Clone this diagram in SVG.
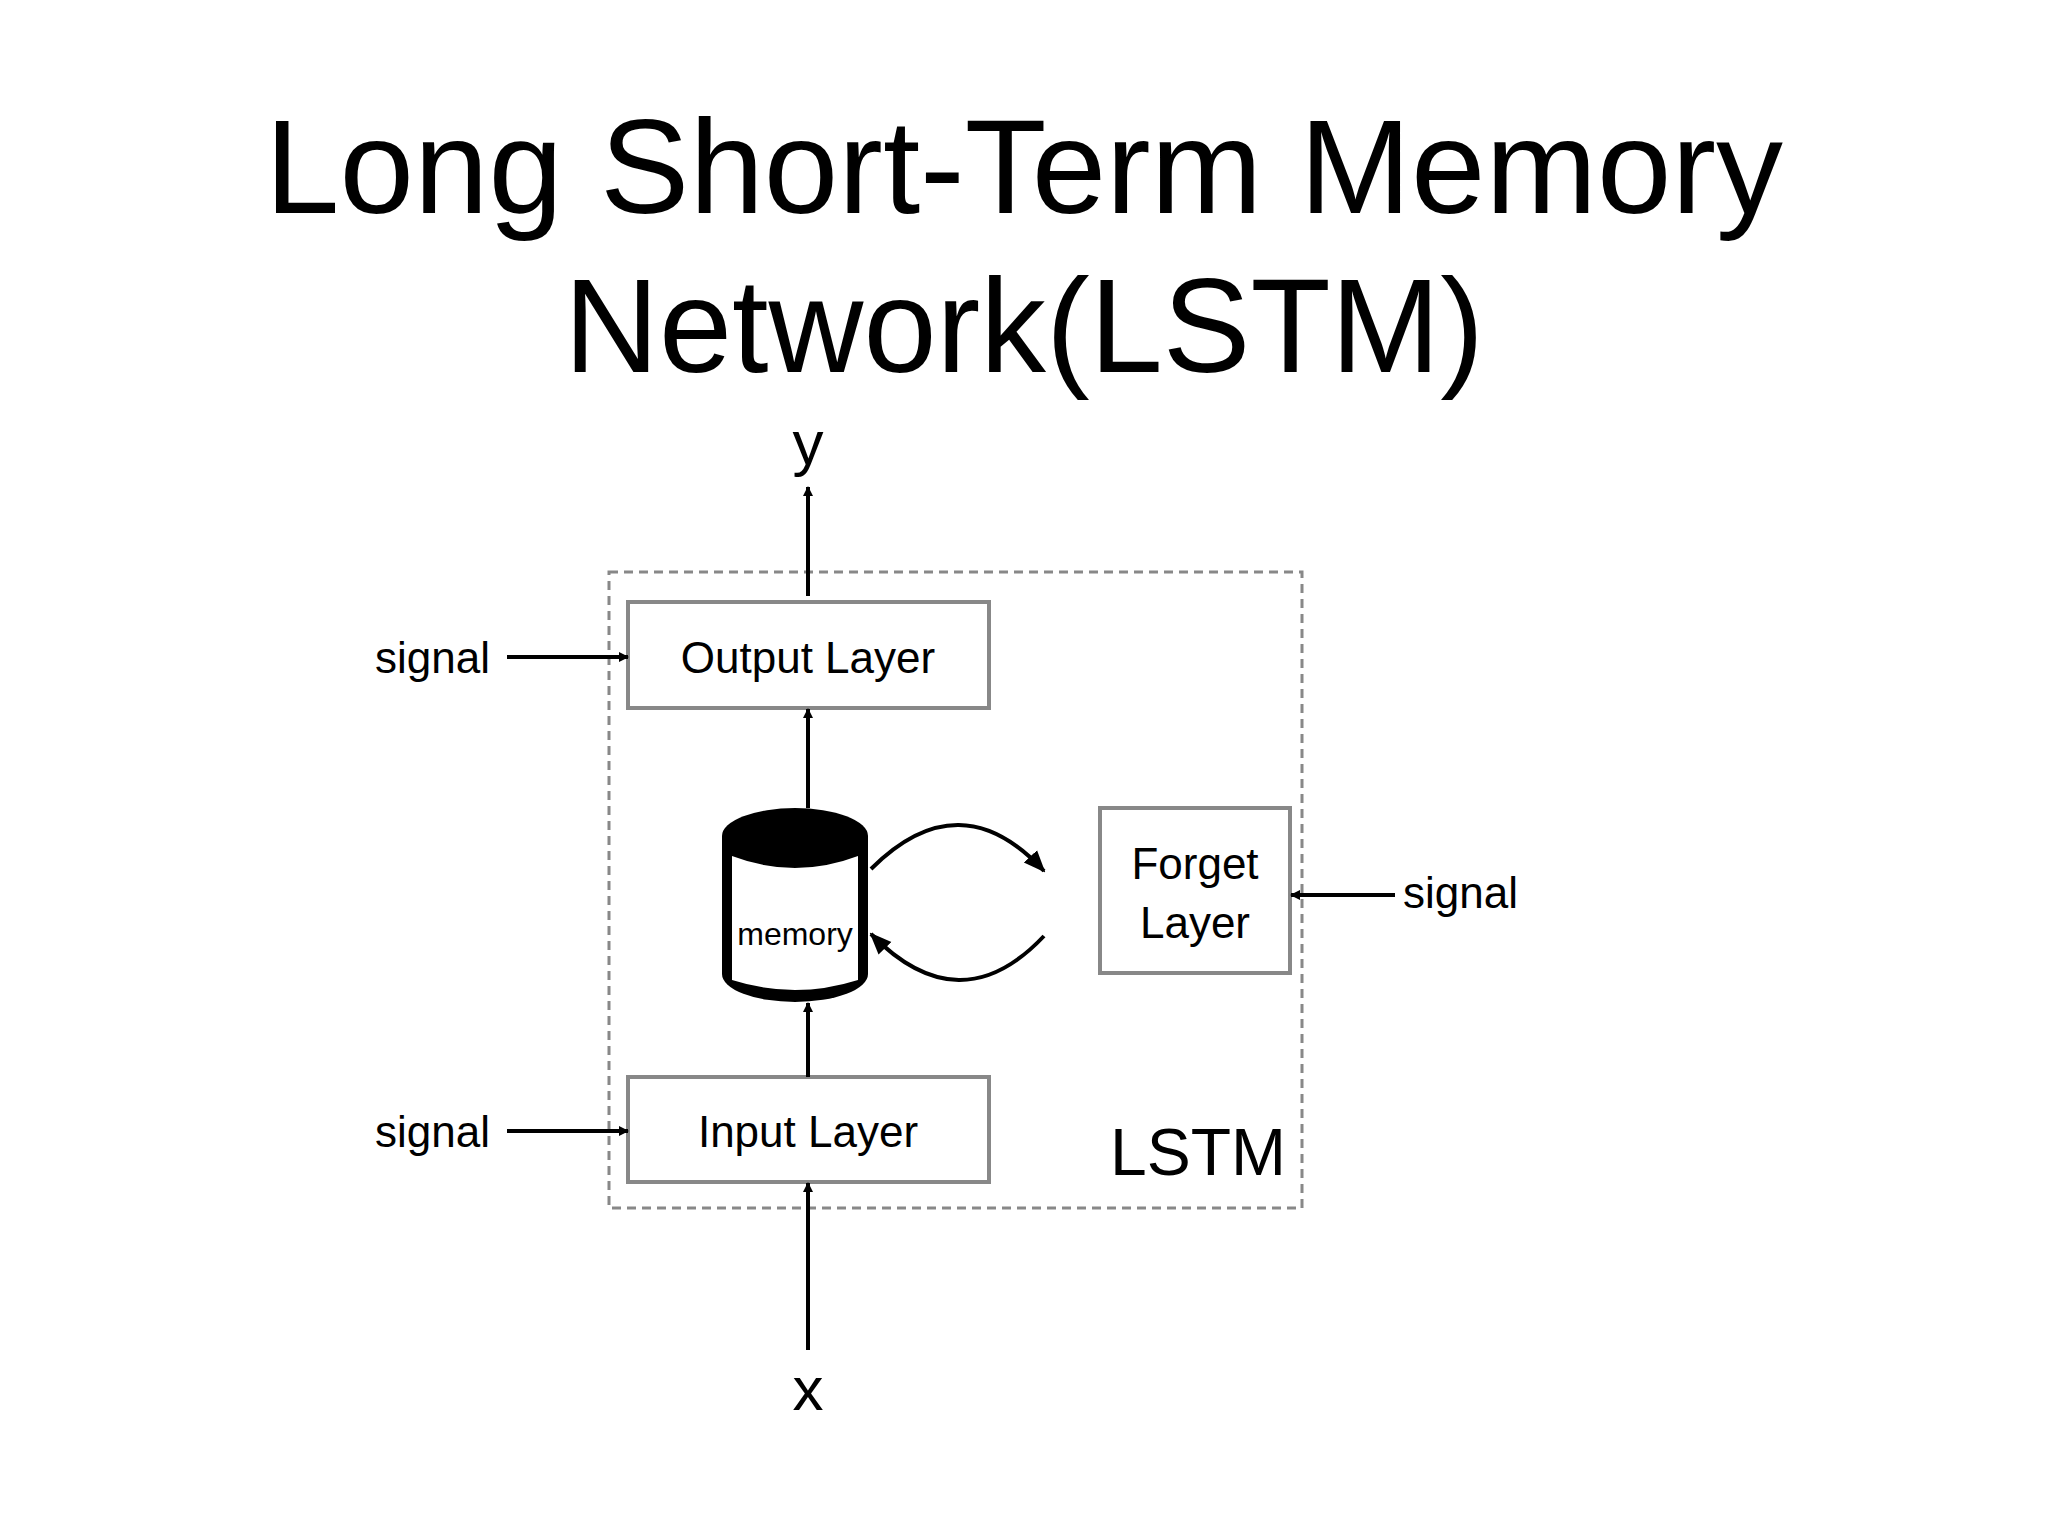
<svg xmlns="http://www.w3.org/2000/svg" width="2048" height="1536" viewBox="0 0 2048 1536">
<defs>
<marker id="ah" markerWidth="10" markerHeight="10" refX="9" refY="5" orient="auto" markerUnits="userSpaceOnUse" viewBox="0 0 10 10">
<path d="M0,0 L10,5 L0,10 z" fill="#000"/>
</marker>
<marker id="ahb" markerWidth="22" markerHeight="22" refX="20" refY="11" orient="auto" markerUnits="userSpaceOnUse" viewBox="0 0 22 22">
<path d="M0,2 L22,11 L0,20 z" fill="#000"/>
</marker>
</defs>
<style>
text{font-family:"Liberation Sans",Arial,sans-serif;fill:#000}
.box{fill:#fff;stroke:#888;stroke-width:4}
.lbl{font-size:44px;text-anchor:middle}
.conn{stroke:#000;stroke-width:4;fill:none}
</style>
<rect width="2048" height="1536" fill="#fff"/>
<g id="title">
<text x="1024" y="213" font-size="134" text-anchor="middle" textLength="1518" lengthAdjust="spacingAndGlyphs">Long Short-Term Memory</text>
<text x="1024" y="372" font-size="134" text-anchor="middle" textLength="920" lengthAdjust="spacingAndGlyphs">Network(LSTM)</text>
</g>
<g id="lstm">
<rect x="609" y="572" width="693" height="636" fill="none" stroke="#888" stroke-width="3" stroke-dasharray="9,6"/>
<text x="1286" y="1175" font-size="66" text-anchor="end">LSTM</text>
</g>
<g id="output"><rect class="box" x="628" y="602" width="361" height="106"/><text class="lbl" x="808" y="673">Output Layer</text></g>
<g id="input"><rect class="box" x="628" y="1077" width="361" height="105"/><text class="lbl" x="808" y="1147">Input Layer</text></g>
<g id="forget"><rect class="box" x="1100" y="808" width="190" height="165"/><text class="lbl" x="1195" y="879">Forget</text><text class="lbl" x="1195" y="938">Layer</text></g>
<g id="memory">
<path d="M722,836 A73,28 0 0 1 868,836 L868,974 A73,28 0 0 1 722,974 Z" fill="#000"/>
<path d="M732,856 Q795,880 858,856 L858,980 Q795,1000 732,980 Z" fill="#fff"/>
<text x="795" y="945" font-size="32" text-anchor="middle">memory</text>
</g>
<g id="labels">
<text x="808" y="464" font-size="62" text-anchor="middle">y</text>
<text x="808" y="1410" font-size="62" text-anchor="middle">x</text>
<text x="490" y="673" font-size="44" text-anchor="end">signal</text>
<text x="490" y="1147" font-size="44" text-anchor="end">signal</text>
<text x="1403" y="908" font-size="44">signal</text>
</g>
<g id="connectors" class="conn">
<line class="conn" x1="808" y1="596" x2="808" y2="487" marker-end="url(#ah)"/>
<line class="conn" x1="808" y1="808" x2="808" y2="709" marker-end="url(#ah)"/>
<line class="conn" x1="808" y1="1077" x2="808" y2="1003" marker-end="url(#ah)"/>
<line class="conn" x1="808" y1="1350" x2="808" y2="1183" marker-end="url(#ah)"/>
<line class="conn" x1="507" y1="657" x2="628" y2="657" marker-end="url(#ah)"/>
<line class="conn" x1="507" y1="1131" x2="628" y2="1131" marker-end="url(#ah)"/>
<line class="conn" x1="1395" y1="895" x2="1291" y2="895" marker-end="url(#ah)"/>
<path class="conn" d="M871,869 Q960,780 1044,871" marker-end="url(#ahb)"/>
<path class="conn" d="M1044,936 Q960,1025 871,934" marker-end="url(#ahb)"/>
</g>
</svg>
